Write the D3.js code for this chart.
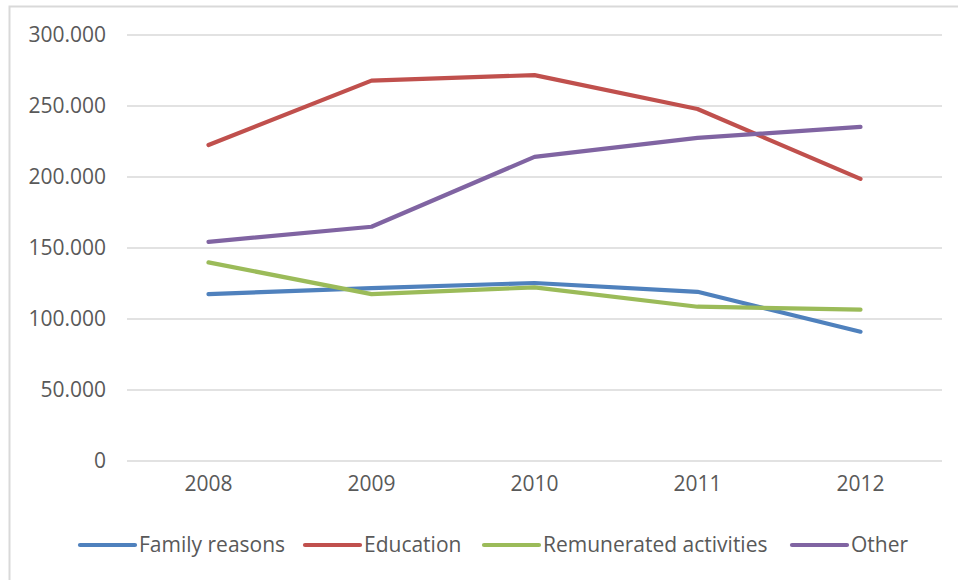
<!DOCTYPE html>
<html><head><meta charset="utf-8">
<script src="https://cdn.jsdelivr.net/npm/d3@7"></script>
<style>body{margin:0;background:#fff}svg{display:block}</style>
</head><body>
<svg id="c" width="958" height="580"></svg>
<script>
const years = ["2008","2009","2010","2011","2012"];
const seriesNames = ["Family reasons","Education","Remunerated activities","Other"];
const familyReasons = [117200,121400,125000,118800,90700];
const education = [222200,267500,271400,247500,198300];
const remuneratedActivities = [139500,117200,121900,108300,106200];
const other = [154000,164600,213800,227200,234900];
const colors = ["#4F81BD","#C0504D","#9BBB59","#8064A2"];
const yTicks = [0,50000,100000,150000,200000,250000,300000];

const series = [familyReasons, education, remuneratedActivities, other];
const svg = d3.select("#c");
const font = "'Open Sans', Calibri, sans-serif";
const txt = "#595959";
const fs = "21px";

svg.append("rect").attr("x",9.5).attr("y",6.5).attr("width",960).attr("height",580)
  .attr("fill","#fff").attr("stroke","#D9D9D9").attr("stroke-width",2);

const x = d3.scaleBand().domain(years).range([127,942]);
const y = d3.scaleLinear().domain([0,300000]).range([460.5,34.5]);

const fmt = v => v===0 ? "0" : d3.format(",")(v).replace(/,/g,".");

const yAxis = svg.append("g").attr("transform","translate(127,0)")
  .call(d3.axisLeft(y).tickValues(yTicks).tickSize(-815).tickFormat(fmt).tickPadding(21));
yAxis.select(".domain").remove();
yAxis.selectAll("line").attr("stroke","#D9D9D9").attr("stroke-width",1.3);
yAxis.selectAll("text").attr("fill",txt).style("font-family",font).style("font-size",fs);

const xAxis = svg.append("g").attr("transform","translate(0,460.5)")
  .call(d3.axisBottom(x).tickSize(0).tickPadding(16));
xAxis.select(".domain").remove();
xAxis.selectAll("text").attr("fill",txt).style("font-family",font).style("font-size",fs);

const line = d3.line().x((d,i)=>x(years[i])+x.bandwidth()/2).y(d=>y(d));
series.forEach((s,k)=>{
  svg.append("path").datum(s).attr("d",line).attr("fill","none")
    .attr("stroke",colors[k]).attr("stroke-width",4.2)
    .attr("stroke-linecap","round").attr("stroke-linejoin","round");
});

const legX = [80,305,484,792];
const leg = svg.append("g");
seriesNames.forEach((n,k)=>{
  const g = leg.append("g").attr("transform",`translate(${legX[k]},545)`);
  g.append("line").attr("x1",0).attr("x2",55).attr("y1",0).attr("y2",0)
    .attr("stroke",colors[k]).attr("stroke-width",4.2).attr("stroke-linecap","round");
  g.append("text").attr("x",59).attr("y",0).attr("dy","0.35em").text(n)
    .attr("fill",txt).style("font-family",font).style("font-size",fs);
});
</script>
</body></html>
